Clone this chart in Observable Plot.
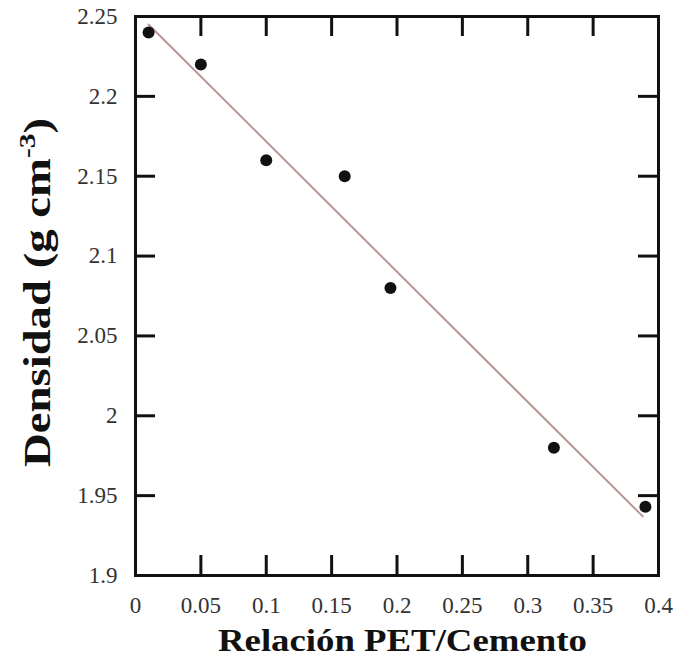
<!DOCTYPE html>
<html>
<head>
<meta charset="utf-8">
<script src="https://cdn.jsdelivr.net/npm/d3@7"></script>
<script src="https://cdn.jsdelivr.net/npm/@observablehq/plot@0.6"></script>
<style>
  html, body { margin: 0; padding: 0; background: #fff; }
  #chart { width: 676px; height: 659px; }
  #chart svg, #chart svg text { font-family: "Liberation Serif", "DejaVu Serif", "Times New Roman", serif !important; }
</style>
</head>
<body>
<div id="chart"></div>
<script>
// Data
const ratio   = [0.01, 0.05, 0.10, 0.16, 0.195, 0.32, 0.39];
const density = [2.24, 2.22, 2.16, 2.15, 2.08, 1.98, 1.943];
// fitted straight line (endpoints)
const fitX = [0.01, 0.388];
const fitY = [2.245, 1.937];
// tick labels
const xTicks = [0, 0.05, 0.1, 0.15, 0.2, 0.25, 0.3, 0.35, 0.4];
const yTicks = [1.9, 1.95, 2, 2.05, 2.1, 2.15, 2.2, 2.25];
const xTitle = "Relación PET/Cemento";
const yTitleMain = "Densidad (g cm";
const yTitleSup = "-3";
const yTitleEnd = ")";

const points = ratio.map((x, i) => ({x, y: density[i]}));
const fit = fitX.map((x, i) => ({x, y: fitY[i]}));
const xInner = xTicks.slice(1, -1);
const yInner = yTicks.slice(1, -1);

const W = 676, H = 659, mL = 135, mT = 16, mR = 18, mB = 84;
const fw = W - mL - mR, fh = H - mT - mB;
const tickLen = 20;
const FONT = '"Liberation Serif", "DejaVu Serif", "Times New Roman", serif';

const plot = Plot.plot({
  width: W, height: H,
  marginLeft: mL, marginTop: mT, marginRight: mR, marginBottom: mB,
  x: {domain: [0, 0.4]},
  y: {domain: [1.9, 2.25]},
  style: {fontFamily: FONT, fontSize: "23px", color: "#333", background: "#fff"},
  marks: [
    Plot.axisX(xTicks, {tickSize: 0, tickPadding: 21, label: null, tickFormat: d => String(d), fontSize: 23, fill: "#333"}),
    Plot.axisY(yTicks, {tickSize: 0, tickPadding: 18, label: null, tickFormat: d => String(d), fontSize: 23, fill: "#333"}),
    // inward ticks: top, bottom, left, right
    Plot.tickX(xInner, {x: d => d, insetBottom: fh - tickLen, stroke: "#111", strokeWidth: 3}),
    Plot.tickX(xInner, {x: d => d, insetTop: fh - tickLen, stroke: "#111", strokeWidth: 3}),
    Plot.tickY(yInner, {y: d => d, insetRight: fw - tickLen, stroke: "#111", strokeWidth: 3}),
    Plot.tickY(yInner, {y: d => d, insetLeft: fw - tickLen, stroke: "#111", strokeWidth: 3}),
    Plot.line(fit, {x: "x", y: "y", stroke: "#b99696", strokeWidth: 2}),
    Plot.dot(points, {x: "x", y: "y", r: 6, fill: "#111", stroke: "none"}),
    Plot.frame({stroke: "#111", strokeWidth: 3})
  ]
});

document.getElementById("chart").appendChild(plot);

const svg = d3.select(plot);
// x title
svg.append("text")
  .attr("transform", "translate(218,651) scale(1.15,1)")
  .attr("text-anchor", "start")
  .style("font-family", FONT)
  .attr("font-weight", "bold")
  .attr("font-size", 32)
  .attr("fill", "#111")
  .text(xTitle);

// y title (rotated, with superscript)
const yt = svg.append("text")
  .attr("transform", "translate(50,467) rotate(-90) scale(1.23,1)")
  .attr("text-anchor", "start")
  .style("font-family", FONT)
  .attr("font-weight", "bold")
  .attr("font-size", 38)
  .attr("fill", "#111");
yt.append("tspan").text(yTitleMain);
yt.append("tspan").attr("dy", -15).attr("font-size", 24).text(yTitleSup);
yt.append("tspan").attr("dy", 15).text(yTitleEnd);
</script>
</body>
</html>
